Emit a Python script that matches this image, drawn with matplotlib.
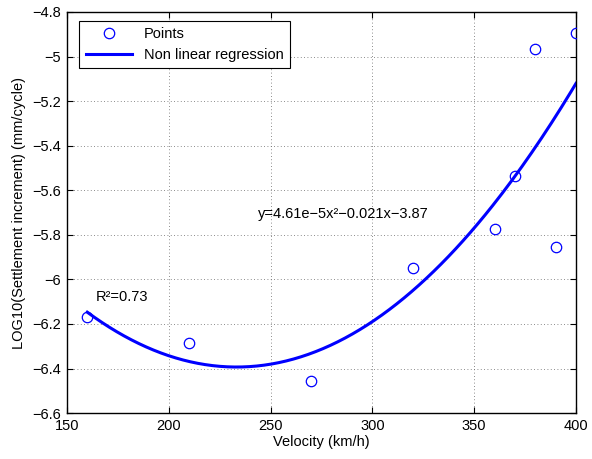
import numpy as np
import matplotlib
matplotlib.use('Agg')
import matplotlib.pyplot as plt

# Measured data
velocity = [160, 210, 270, 320, 360, 370, 380, 390, 400]
log_settlement = [-6.17, -6.285, -6.455, -5.95, -5.775, -5.535, -4.965, -5.855, -4.893]

# Regression curve as drawn (quadratic)
fit_coef = [4.58e-5, -0.02137, -3.9005]
fit_label = 'y=4.61e\u22125x\u00b2\u22120.021x\u22123.87'
r2_label = 'R\u00b2=0.73'

FS = 10.5
plt.rcParams['font.family'] = ['Liberation Sans', 'DejaVu Sans']
plt.rcParams['font.size'] = FS

fig = plt.figure(figsize=(5.92, 4.59), dpi=100)
ax = fig.add_axes((0.113, 0.100, 0.860, 0.874))

xfit = np.linspace(min(velocity), max(velocity), 200)
yfit = np.polyval(fit_coef, xfit)

ax.plot(velocity, log_settlement, 'o', markerfacecolor='none', markeredgecolor='blue',
        markersize=7.5, markeredgewidth=0.9, label='Points', zorder=3)
ax.plot(xfit, yfit, '-', color='blue', linewidth=2.2, label='Non linear regression', zorder=2)

ax.text(244, -5.707, fit_label, fontsize=FS, va='center', ha='left')
ax.text(164, -6.079, r2_label, fontsize=FS, va='center', ha='left')

ax.set_xlim(150, 400)
ax.set_ylim(-6.6, -4.8)
ax.set_xticks(np.arange(150, 401, 50))
ax.set_yticks(np.arange(-6.6, -4.79, 0.2))
ax.set_yticklabels(['\u22126.6', '\u22126.4', '\u22126.2', '\u22126', '\u22125.8', '\u22125.6',
                    '\u22125.4', '\u22125.2', '\u22125', '\u22124.8'])
ax.grid(True, linestyle=(0, (1, 3)), color='#666666', linewidth=0.6)
ax.tick_params(direction='in', top=True, right=True, length=4, labelsize=FS, pad=4)
for spine in ax.spines.values():
    spine.set_linewidth(1.0)

ax.set_xlabel('Velocity (km/h)', fontsize=FS, labelpad=2)
ax.set_ylabel('LOG10(Settlement increment) (mm/cycle)', fontsize=FS, labelpad=5)

leg = ax.legend(loc='upper left', bbox_to_anchor=(0.024, 0.978), fancybox=False,
                edgecolor='black', framealpha=1, fontsize=FS, borderpad=0.45,
                handlelength=3.2, labelspacing=0.45, borderaxespad=0)
leg.get_frame().set_linewidth(0.8)

fig.savefig('out.png', dpi=100)
